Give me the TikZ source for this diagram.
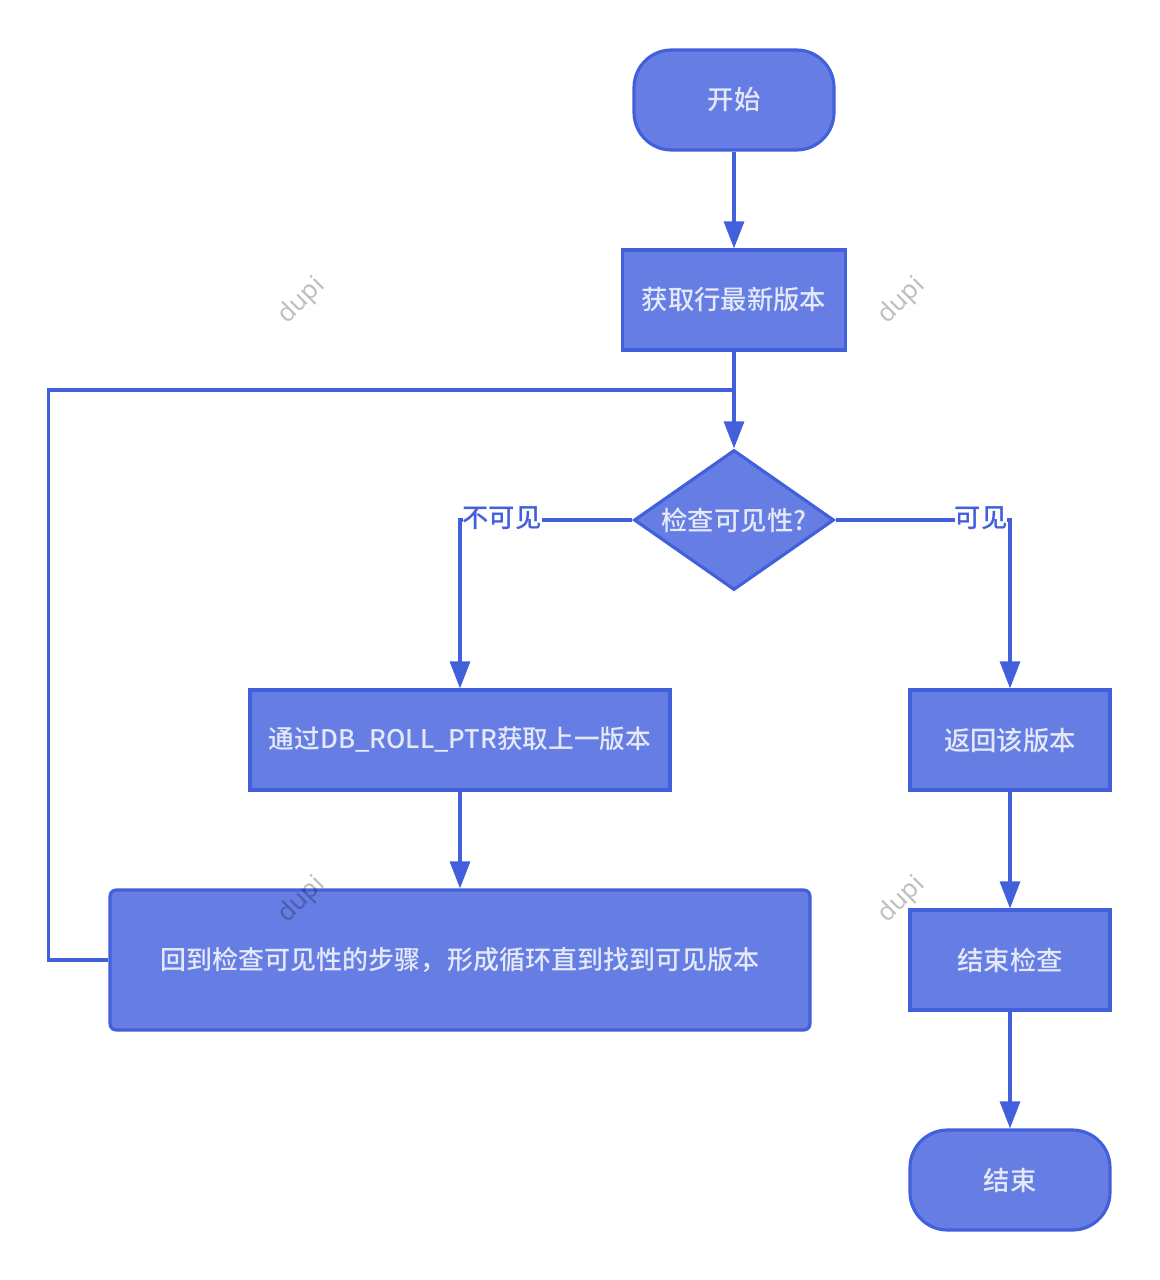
\documentclass[tikz,border=0pt]{standalone}
\usepackage{fontspec}
\setmainfont{Noto Sans CJK SC}[UprightFont={* Medium}]
\newfontfamily\wmfont{Noto Sans}
\usepackage{tikz}
\usetikzlibrary{arrows.meta,shapes.geometric}
\definecolor{lineblue}{HTML}{4360DC}
\definecolor{boxblue}{HTML}{667EE3}
\definecolor{boxtext}{HTML}{E4E9FA}
\tikzset{
  box/.style={draw=lineblue, fill=boxblue, line width=1.8pt, text=boxtext,
    font=\fontsize{15}{18}\selectfont, inner sep=0pt},
  stepbox/.style={box, rectangle, minimum height=2cm},
  terminal/.style={box, rectangle, rounded corners=0.75cm, minimum width=4cm, minimum height=2cm},
  decision/.style={box, diamond, aspect=1.43, minimum width=4cm, minimum height=2.8cm},
  arr/.style={color=lineblue, line width=1.8pt, -{Triangle[length=0.54cm,width=0.4cm]}},
  loopline/.style={color=lineblue, line width=1.8pt},
  lbl/.style={fill=white, text=lineblue, font=\fontsize{15}{18}\selectfont, inner sep=0pt, outer sep=0pt},
  wm/.style={text=black, text opacity=0.25, rotate=45, font=\wmfont\fontsize{14.5}{14.5}\selectfont}
}
\begin{document}
\begin{tikzpicture}[x=0.02cm,y=-0.02cm]
\useasboundingbox (0,0) rectangle (1159,1280);
   \draw (734,100) node[terminal] (start) {开始};
   \draw (734,300) node[stepbox, minimum width=4.46cm] (latest) {获取行最新版本};
   \draw (734,520) node[decision] (check) {检查可见性?};
      \draw (460,740) node[stepbox, minimum width=8.4cm] (prev) {\fontsize{14.6}{18}\selectfont 通过DB\_ROLL\_PTR获取上一版本};
      \draw (460,960) node[stepbox, rounded corners=0.12cm, minimum width=14cm, minimum height=2.8cm] (loopbox) {\fontsize{14.8}{18}\selectfont 回到检查可见性的步骤，形成循环直到找到可见版本};
  \draw (1010,740) node[stepbox, minimum width=4cm] (back) {返回该版本};
  \draw (1010,960) node[stepbox, minimum width=4cm] (endcheck) {结束检查};
	\draw (1010,1180) node[terminal] (finish) {结束};
   \coordinate (merge) at (734,390);

    \path[arr] (start) edge (latest);
    \path[arr] (latest) edge (check);
      \draw[arr] (check.west) -| (prev.north) node[pos=0.5, anchor=west, xshift=1.5, yshift=1, lbl] {不可见};
      \draw[arr] (prev) -- (loopbox);
      \draw[loopline] (loopbox.west) -- ++(-60,0) |- (merge);
    \draw[arr] (check.east) -| (back.north) node[pos=0.5, anchor=east, xshift=-1.5, yshift=1, lbl] {可见};
    \path[arr] (back) edge (endcheck);
    \path[arr] (endcheck) edge (finish);

  \draw (302,301) node[wm] (wm1) {dupi};
  \draw (902,301) node[wm] (wm2) {dupi};
  \draw (302,900) node[wm] (wm3) {dupi};
  \draw (902,900) node[wm] (wm4) {dupi};
\end{tikzpicture}
\end{document}
